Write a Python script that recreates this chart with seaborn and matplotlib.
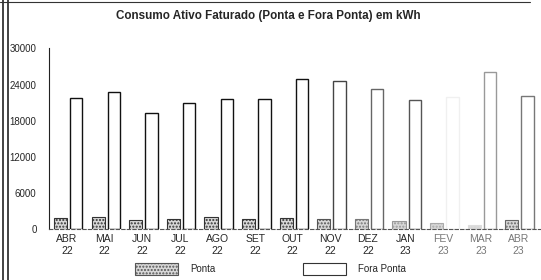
import pandas as pd
import seaborn as sns
import matplotlib.pyplot as plt
from matplotlib.lines import Line2D
from matplotlib.patches import Patch

meses = ['ABR\n22', 'MAI\n22', 'JUN\n22', 'JUL\n22', 'AGO\n22', 'SET\n22', 'OUT\n22',
         'NOV\n22', 'DEZ\n22', 'JAN\n23', 'FEV\n23', 'MAR\n23', 'ABR\n23']
ponta = [1850, 2030, 1500, 1700, 1980, 1600, 1850, 1600, 1600, 1250, 950, 700, 1500]
fora_ponta = [21700, 22800, 19300, 20970, 21530, 21530, 24870, 24580, 23200, 21420, 22000, 26140, 22140]
yticks = [0, 6000, 12000, 18000, 24000, 30000]

# scan is faded on the right side
edge_fora = ['#111'] * 7 + ['#444', '#666', '#555', '#f0f0f0', '#999', '#777']
edge_ponta = ['#333'] * 7 + ['#555', '#777', '#999', '#aaa', '#ddd', '#666']

df = pd.DataFrame({'mes': meses * 2,
                   'valor': ponta + fora_ponta,
                   'tipo': ['Ponta'] * len(meses) + ['Fora Ponta'] * len(meses)})

sns.set_style('white')
plt.rcParams['font.family'] = ['Liberation Sans', 'DejaVu Sans']

fig = plt.figure(figsize=(5.41, 2.8), dpi=100)
ax = fig.add_axes([0.0906, 0.183, 0.9094, 0.644])

sns.barplot(data=df, x='mes', y='valor', hue='tipo', ax=ax, legend=False,
            palette=['#d8d8d8', 'white'], saturation=1)

n = len(meses)
for i, p in enumerate(ax.patches[:2 * n]):
    if i < n:
        # ponta
        p.set_width(0.35)
        p.set_x(i - 0.35)
        p.set_hatch('.....')
        p.set_edgecolor(edge_ponta[i])
        p.set_linewidth(0.8)
    else:
        j = i - n
        p.set_width(0.33)
        p.set_x(j + 0.08)
        p.set_edgecolor(edge_fora[j])
        p.set_linewidth(1.0)

ax.set_xlim(-0.48, n - 0.4)
ax.set_ylim(0, 30000)
ax.set_yticks(yticks)
ax.set_yticklabels([str(v) for v in yticks], fontsize=7)
ax.tick_params(axis='y', length=3, width=0.8, pad=6)
ax.tick_params(axis='x', length=0, labelsize=7.5, pad=4)
for k, lab in enumerate(ax.get_xticklabels()):
    if k >= 10:
        lab.set_color('#777')
ax.set_xlabel('')
ax.set_ylabel('')
for s in ['top', 'right']:
    ax.spines[s].set_visible(False)
ax.spines['left'].set_color('#222')
ax.spines['left'].set_linewidth(0.8)
ax.spines['bottom'].set_color('#555')
ax.spines['bottom'].set_linewidth(0.8)
ax.spines['bottom'].set_linestyle((0, (3, 2)))

fig.suptitle('Consumo Ativo Faturado (Ponta e Fora Ponta) em kWh',
             x=0.496, y=0.965, fontsize=8.4, fontweight='bold')

handles = [Patch(facecolor='#d8d8d8', edgecolor='#555', hatch='.....', linewidth=0.8),
           Patch(facecolor='white', edgecolor='#333', linewidth=0.8)]
fig.legend(handles, ['Ponta', 'Fora Ponta'], loc='lower center', ncol=2,
           bbox_to_anchor=(0.5, -0.015), frameon=False, fontsize=7,
           handlelength=4.4, handleheight=1.6, handletextpad=1.25, columnspacing=9)

# borders of the scanned page
fig.add_artist(Line2D([0.006, 0.006], [0, 1], color='#222', lw=1.2))
fig.add_artist(Line2D([0.015, 0.015], [0, 1], color='#222', lw=1.2))
fig.add_artist(Line2D([0.0, 0.98], [0.993, 0.993], color='#333', lw=0.8))

fig.savefig('out.png', dpi=100)
